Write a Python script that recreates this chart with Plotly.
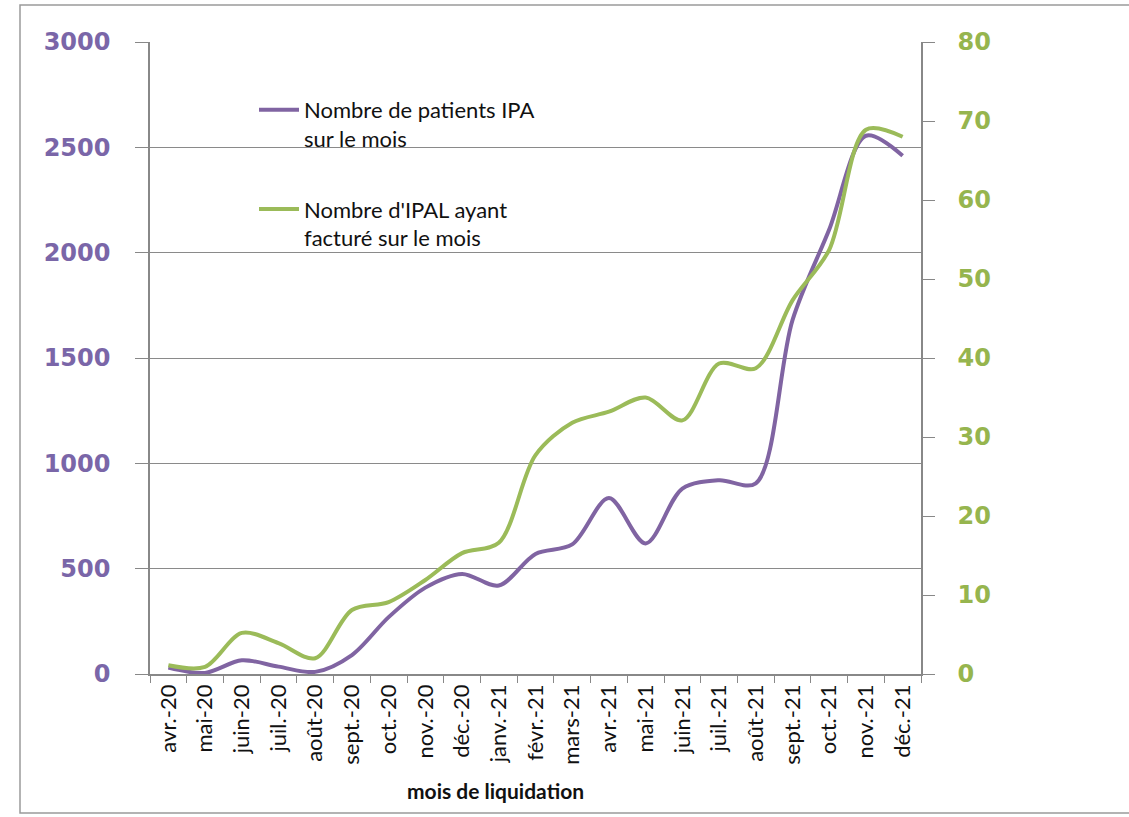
import plotly.graph_objects as go

months = ["avr.-20", "mai-20", "juin-20", "juil.-20", "août-20", "sept.-20", "oct.-20",
          "nov.-20", "déc.-20", "janv.-21", "févr.-21", "mars-21", "avr.-21", "mai-21",
          "juin-21", "juil.-21", "août-21", "sept.-21", "oct.-21", "nov.-21", "déc.-21"]
patients_ipa = [30, 5, 65, 35, 10, 90, 270, 410, 475, 420, 570, 615, 835, 620,
                880, 920, 905, 1680, 2110, 2555, 2460]
ipal_factures = [1.1, 0.9, 5.2, 3.9, 2.0, 8.1, 9.1, 11.9, 15.3, 16.6, 27.7, 31.8, 33.2, 35.0,
                 32.1, 39.3, 38.7, 47.3, 53.7, 68.9, 68.0]
left_ticks = [0, 500, 1000, 1500, 2000, 2500, 3000]
right_ticks = [0, 10, 20, 30, 40, 50, 60, 70, 80]

PURPLE = "#8064A2"
GREEN = "#9BBB59"
PURPLE_TXT = "#7A66A8"
GREEN_TXT = "#96B54E"

W, H = 1129, 817
L, R, T, B = 150, 921, 42, 674

fig = go.Figure()
fig.add_trace(go.Scatter(
    x=months, y=patients_ipa, mode="lines", line=dict(color=PURPLE, width=4, shape="spline", smoothing=0.9),
    name="Nombre de patients IPA<br>sur le mois", legendgroup="a", yaxis="y"))
fig.add_trace(go.Scatter(
    x=months, y=ipal_factures, mode="lines", line=dict(color=GREEN, width=4, shape="spline", smoothing=0.9),
    name="Nombre d'IPAL ayant<br>facturé sur le mois", legendgroup="b", yaxis="y2"))

def px_x(p):
    return (p - L) / (R - L)

def px_y(p):
    return (B - p) / (B - T)

fig.update_layout(
    width=W, height=H,
    margin=dict(l=L, r=W - R, t=T, b=H - B, pad=0),
    paper_bgcolor="white", plot_bgcolor="white",
    font=dict(family="Lato, sans-serif", color="#111111"),
    showlegend=True,
    legend=dict(x=px_x(254), y=px_y(89), xanchor="left", yanchor="top",
                bgcolor="rgba(0,0,0,0)", font=dict(size=22, family="Lato", color="#111111"),
                tracegroupgap=39, valign="top", itemwidth=40),
    xaxis=dict(
        type="category", tickangle=-90, tickson="boundaries", ticks="outside", ticklen=7,
        tickcolor="#888888", showline=True, linecolor="#888888", linewidth=1.5,
        showgrid=False, tickfont=dict(size=22, family="Lato", color="#111111"),
        range=[-0.5, len(months) - 0.5],
    ),
    yaxis=dict(
        range=[0, 3000], tickvals=left_ticks, ticks="outside", ticklen=13, tickcolor="#888888",
        showline=True, linecolor="#888888", linewidth=1.5,
        showgrid=True, gridcolor="#8a8a8a", gridwidth=1.3, zeroline=False,
        tickfont=dict(size=24, family="DejaVu Sans", color=PURPLE_TXT, weight="bold"),
        ticklabelstandoff=20,
    ),
    yaxis2=dict(
        range=[0, 80], tickvals=right_ticks, overlaying="y", side="right", ticks="outside",
        ticklen=12, tickcolor="#888888", showline=True, linecolor="#888888", linewidth=1.5,
        showgrid=False, zeroline=False,
        tickfont=dict(size=24, family="DejaVu Sans", color=GREEN_TXT, weight="bold"),
        ticklabelstandoff=18,
    ),
    annotations=[dict(text="<b>mois de liquidation</b>", xref="paper", yref="paper",
                      x=px_x(495), y=px_y(790), xanchor="center", yanchor="middle",
                      showarrow=False, font=dict(size=21, family="Lato", color="#111111"))],
    shapes=[dict(type="rect", xref="paper", yref="paper", x0=px_x(20), x1=px_x(1160),
                 y0=px_y(813), y1=px_y(5), line=dict(color="#9a9a9a", width=1.5), layer="below")],
)

fig.write_html("out.html", config={"displayModeBar": False},
               post_script="document.body.style.margin='0px';")
